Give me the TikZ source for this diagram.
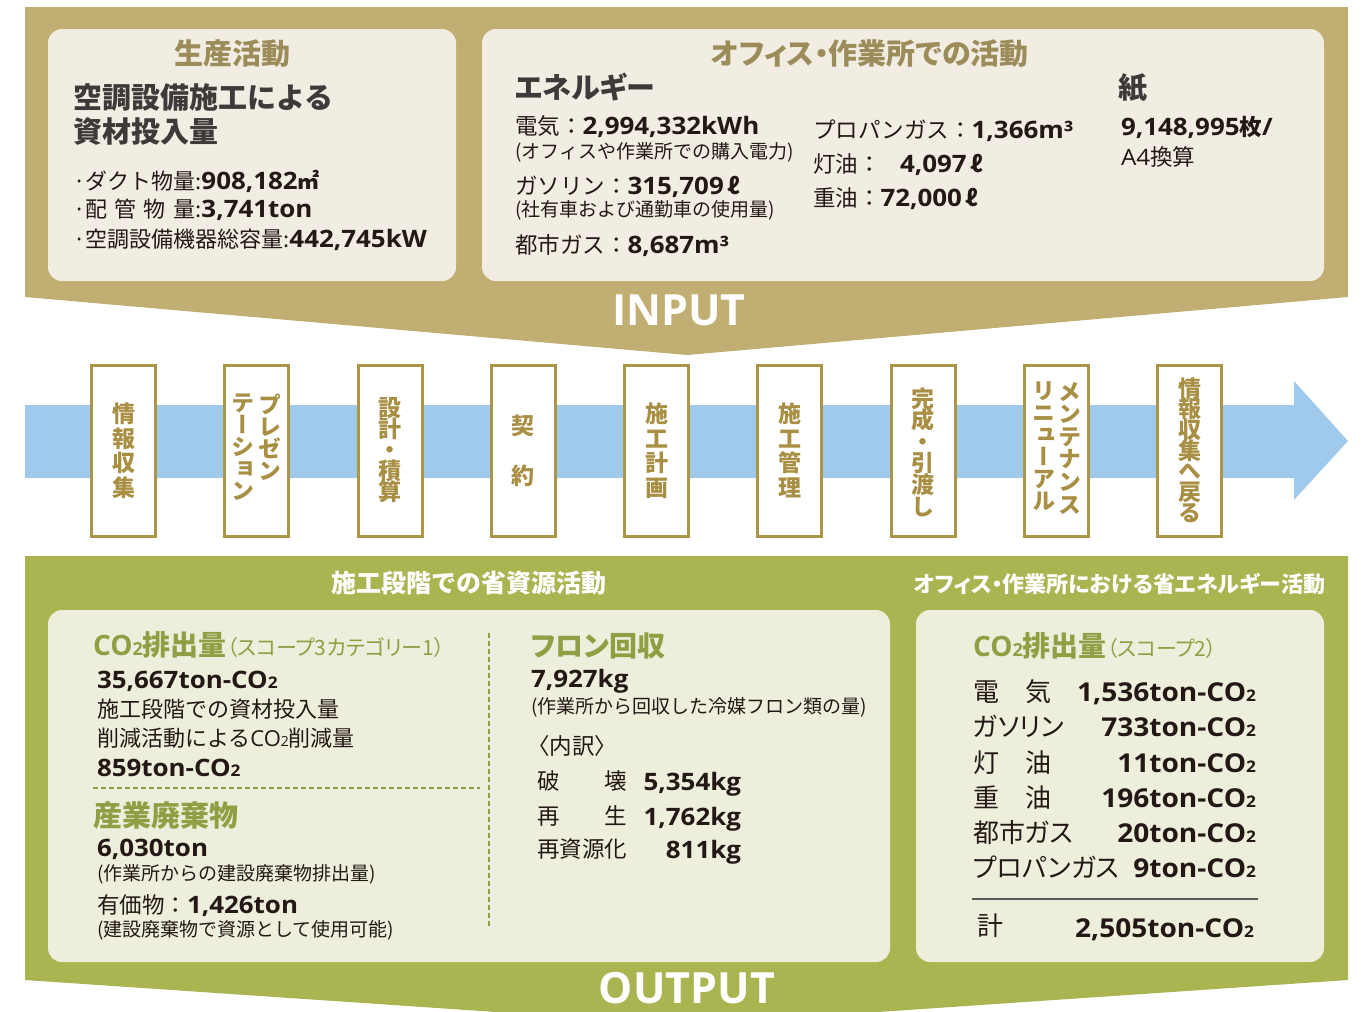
\documentclass[tikz,border=0pt]{standalone}
\usepackage{fontspec}
\setmainfont{Noto Sans CJK JP}
\newfontfamily\jp{Noto Sans CJK JP}
\newfontfamily\pjp{Noto Sans CJK JP}[RawFeature=+palt]
\newfontfamily\vjp{Noto Sans CJK JP}[RawFeature=+vert]
\newfontfamily\lat{Open Sans}[FakeStretch=1.08]
\newfontfamily\latw{Open Sans}
\newcommand\fsz[1]{\fontsize{#1}{#1}\selectfont}
\newcommand\nb[1]{{\lat\bfseries #1}}
\newcommand\nbs[2]{{\fsz{#1}\lat\bfseries #2}}
\newcommand\tco[2]{{\lat\bfseries #1ton-CO{\fsz{#2}2}}}
\definecolor{cTan}{HTML}{C1AE72}
\definecolor{cPanIn}{HTML}{F1EDE2}
\definecolor{cBrownH}{HTML}{9C8C5A}
\definecolor{cDark}{HTML}{3E3A39}
\definecolor{cBody}{HTML}{231815}
\definecolor{cBlue}{HTML}{A0CAEB}
\definecolor{cGold}{HTML}{AD9548}
\definecolor{cGoldT}{HTML}{A88F43}
\definecolor{cGreen}{HTML}{AAB450}
\definecolor{cPanOut}{HTML}{EEEEDC}
\definecolor{cGreenH}{HTML}{8F9F44}
\definecolor{cRule}{HTML}{595757}
\begin{document}
\begin{tikzpicture}[x=1pt,y=-1pt,
  every node/.style={inner sep=0pt, outer sep=0pt},
  stepbox/.style={draw=cGold, line width=3pt, fill=white, minimum width=64pt, minimum height=171pt},
  vtx/.style={font={\vjp\bfseries\fontsize{23}{#1}\selectfont\lineskiplimit=-100pt\lineskip=0pt}, text=cGoldT, align=center},
  lw/.style={anchor=base west, text=cBody},
  dashline/.style={draw=cGreenH, line width=2.5pt, dash pattern=on 5pt off 3pt}]
\useasboundingbox (0,0) rectangle (1363,1012);
\clip (0,0) rectangle (1363,1012);

% big background shapes
\fill[cTan] (25,7) -- (1348,7) -- (1348,297) -- (687,355) -- (25,297) -- cycle;
\fill[cGreen] (25,556) -- (1348,556) -- (1348,980) -- (687,1025) -- (25,980) -- cycle;

% panels
\fill[cPanIn, rounded corners=14pt] (48,29) rectangle (456,281);
\fill[cPanIn, rounded corners=14pt] (482,29) rectangle (1324,281);
\fill[cPanOut, rounded corners=14pt] (48,610) rectangle (890,962);
\fill[cPanOut, rounded corners=14pt] (916,610) rectangle (1324,962);

% ---------- INPUT: left panel
\node[anchor=base, text=cBrownH, font=\bfseries\fsz{29}] (h1) at (232,64) {生産活動};
\node[anchor=base west, text=cDark, font=\bfseries\fsz{29}] (t1) at (73,108) {空調設備施工による};
\node[anchor=base west, text=cDark, font=\bfseries\fsz{29}] (t2) at (73,142) {資材投入量};
\node[lw, font=\fsz{22}] (t3) at (73,189) {·ダクト物量:\nbs{24}{908,182}{\bfseries ㎡}};
\node[lw, font=\fsz{22}] (t4) at (73,217) {·\makebox[110pt][s]{配\hfill 管\hfill 物\hfill 量}:\nbs{24}{3,741ton}};
\node[lw, font=\fsz{22}] (t5) at (73,247) {·空調設備機器総容量:\nbs{24}{442,745kW}};

% ---------- INPUT: right panel
\node[anchor=base, text=cBrownH, font=\pjp\bfseries\fsz{29}] (h2) at (870,64) {オフィス・作業所での活動};
\node[anchor=base west, text=cDark, font=\pjp\bfseries\fsz{29}] (e0) at (515,98) {エネルギー};
\node[lw, font=\fsz{22.5}] (e1) at (515,134) {電気：\nbs{24}{2,994,332kWh}};
\node[lw, font=\fsz{19}] (e1n) at (515,158.5) {(オフィスや作業所での購入電力)};
\node[lw, font=\fsz{22.5}] (e2) at (515,194) {ガソリン：\nbs{24}{315,709}\,{\bfseries ℓ}};
\node[lw, font=\fsz{19}] (e2n) at (515,216.5) {(社有車および通勤車の使用量)};
\node[lw, font=\fsz{22.5}] (e3) at (515,253) {都市ガス：\nbs{24}{8,687m³}};
\node[lw, font=\fsz{22.5}] (e4) at (813,138) {プロパンガス：\nbs{24}{1,366m³}};
\node[lw, font=\fsz{22.5}] (e5) at (813,172) {灯油：\hspace{19.5pt}\nbs{24}{4,097}\,{\bfseries ℓ}};
\node[lw, font=\fsz{22.5}] (e6) at (813,206) {重油：\nbs{24}{72,000}\,{\bfseries ℓ}};
\node[anchor=base west, text=cDark, font=\bfseries\fsz{29}] (p0) at (1118,98) {紙};
\node[lw, font=\fsz{22.5}] (p1) at (1121,135) {\nbs{24}{9,148,995}{\bfseries 枚}\nbs{24}{/}};
\node[lw, font=\fsz{22.5}] (p2) at (1121,165) {{\lat A4}換算};

\node[anchor=base, text=white, font=\latw\bfseries\fsz{43}] (input) at (679,325) {INPUT};

% ---------- process flow
\fill[cBlue] (25,405) -- (1294,405) -- (1294,381) -- (1348,441) -- (1294,500) -- (1294,478) -- (25,478) -- cycle;
\foreach \i in {0,...,8}
  \node[stepbox] (b\i) at ({123.5+133.25*\i},451) {};

\node[vtx=24.5] (v0) at (b0.center |- 0,450.5) {情\\報\\収\\集};
\node[vtx=22, anchor=north] (v1a) at (270,394) {プ\\レ\\ゼ\\ン};
\node[vtx=22, anchor=north] (v1b) at (243,394) {テ\\ー\\シ\\ョ\\ン};
\node[vtx=21] (v2) at (b2.center |- 0,450) {設\\計\\・\\積\\算};
\node[vtx=50] (v3) at (b3.center |- 0,451) {契\\約};
\node[vtx=24.5] (v4) at (b4.center |- 0,450.5) {施\\工\\計\\画};
\node[vtx=24.5] (v5) at (b5.center |- 0,450.5) {施\\工\\管\\理};
\node[vtx=21.6] (v6) at (b6.center |- 0,452) {完\\成\\・\\引\\渡\\し};
\node[vtx=22.6, anchor=north] (v7a) at (1070,382) {メ\\ン\\テ\\ナ\\ン\\ス};
\node[vtx=22, anchor=north] (v7b) at (1044,382) {リ\\ニ\\ュ\\ー\\ア\\ル};
\node[vtx=20.7] (v8) at (b8.center |- 0,450) {情\\報\\収\\集\\へ\\戻\\る};

% ---------- OUTPUT headers
\node[anchor=base, text=white, font=\bfseries\fsz{25}] (oh1) at (469,592) {施工段階での省資源活動};
\node[anchor=base, text=white, font=\pjp\bfseries\fsz{22}] (oh2) at (1119.5,592) {オフィス・作業所における省エネルギー活動};

% ---------- OUTPUT left panel
\node[anchor=base west, text=cGreenH, font=\fsz{28}] (c0) at (93,655)
  {{\latw\bfseries CO{\fsz{18}2}}{\bfseries 排出量}{\pjp\fsz{21}（スコープ3カテゴリー1）}};
\node[lw, font=\fsz{24}] (c1) at (97,688) {\tco{35,667}{16}};
\node[lw, font=\fsz{22}] (c2) at (97,717) {施工段階での資材投入量};
\node[lw, font=\fsz{22}] (c3) at (97,746) {削減活動による{\latw CO{\fsz{14}2}}削減量};
\node[lw, font=\fsz{24}] (c4) at (97,776) {\tco{859}{16}};
\coordinate (dh1) at (93,788);
\coordinate (dh2) at (480,788);
\draw[dashline] (dh1) -- (dh2);
\node[anchor=base west, text=cGreenH, font=\bfseries\fsz{29}] (w0) at (93,826) {産業廃棄物};
\node[lw, font=\fsz{24}] (w1) at (97,856) {\nb{6,030ton}};
\node[lw, font=\fsz{19}] (w2) at (97,880) {(作業所からの建設廃棄物排出量)};
\node[lw, font=\fsz{22.5}] (w3) at (97,913) {有価物：\nbs{24}{1,426ton}};
\node[lw, font=\fsz{19}] (w4) at (97,936) {(建設廃棄物で資源として使用可能)};
\coordinate (dv1) at (489,633);
\coordinate (dv2) at (489,928);
\draw[dashline] (dv1) -- (dv2);

% ---------- OUTPUT middle column
\node[anchor=base west, text=cGreenH, font=\pjp\bfseries\fsz{28}] (f0) at (531,656) {フロン回収};
\node[lw, font=\fsz{24}] (f1) at (531,687) {\nb{7,927kg}};
\node[lw, font=\fsz{19}] (f2) at (531,713) {(作業所から回収した冷媒フロン類の量)};
\node[lw, font=\fsz{22.5}] (f3) at (527,754) {〈内訳〉};
\node[lw, font=\fsz{22.5}] (f4l) at (537,789) {破\hspace{2em}壊};
\node[lw, font=\fsz{22.5}] (f5l) at (537,824) {再\hspace{2em}生};
\node[lw, font=\fsz{22.5}] (f6l) at (537,857) {再資源化};
\node[anchor=base east, text=cBody, font=\fsz{24}] (f4v) at (741,790) {\nb{5,354kg}};
\node[anchor=base east, text=cBody, font=\fsz{24}] (f5v) at (741,825) {\nb{1,762kg}};
\node[anchor=base east, text=cBody, font=\fsz{24}] (f6v) at (741,858) {\nb{811kg}};

% ---------- OUTPUT right panel
\node[anchor=base west, text=cGreenH, font=\fsz{28}] (s0) at (973,656)
  {{\latw\bfseries CO{\fsz{18}2}}{\bfseries 排出量}{\pjp\fsz{21}（スコープ2）}};
\node[lw, font=\pjp\fsz{26}] (r1l) at (973,701) {電\hspace{1em}気};
\node[lw, font=\pjp\fsz{26}] (r2l) at (973,736) {ガソリン};
\node[lw, font=\pjp\fsz{26}] (r3l) at (973,772) {灯\hspace{1em}油};
\node[lw, font=\pjp\fsz{26}] (r4l) at (973,807) {重\hspace{1em}油};
\node[lw, font=\pjp\fsz{26}] (r5l) at (973,842) {都市ガス};
\node[lw, font=\pjp\fsz{26}] (r6l) at (973,877) {プロパンガス};
\node[anchor=base east, text=cBody, font=\fsz{26}] (r1v) at (1256,701) {\tco{1,536}{16}};
\node[anchor=base east, text=cBody, font=\fsz{26}] (r2v) at (1256,736) {\tco{733}{16}};
\node[anchor=base east, text=cBody, font=\fsz{26}] (r3v) at (1256,772) {\tco{11}{16}};
\node[anchor=base east, text=cBody, font=\fsz{26}] (r4v) at (1256,807) {\tco{196}{16}};
\node[anchor=base east, text=cBody, font=\fsz{26}] (r5v) at (1256,842) {\tco{20}{16}};
\node[anchor=base east, text=cBody, font=\fsz{26}] (r6v) at (1256,877) {\tco{9}{16}};
\coordinate (rl1) at (972,899);
\coordinate (rl2) at (1258,899);
\draw[cRule, line width=1.2pt] (rl1) -- (rl2);
\node[lw, font=\fsz{26}] (tl) at (977,935) {計};
\node[anchor=base east, text=cBody, font=\fsz{26}] (tv) at (1254,937) {\tco{2,505}{16}};

\node[anchor=base, text=white, font=\latw\bfseries\fsz{43}] (output) at (687,1003) {OUTPUT};
\end{tikzpicture}
\end{document}
